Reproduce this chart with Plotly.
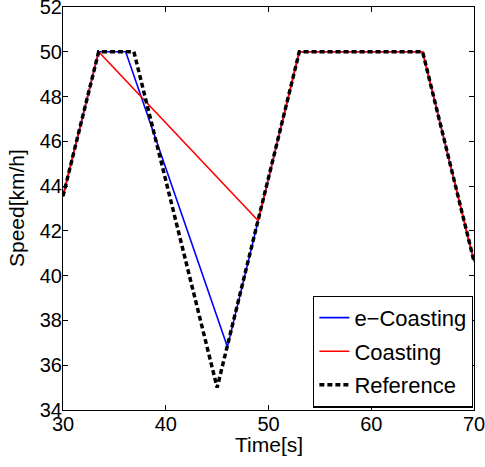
import plotly.graph_objects as go

# e-Coasting (blue)
time_e = [30, 33.47, 36.1, 46.0, 53.0, 65.0, 70]
speed_e = [43.55, 50, 50, 36.82, 50, 50, 40.64]
# Coasting (red)
time_c = [30, 33.47, 49.0, 53.0, 65.0, 70]
speed_c = [43.55, 50, 42.45, 50, 50, 40.64]
# Reference (black dashed)
time_r = [30, 33.47, 36.9, 45.0, 53.0, 65.0, 70]
speed_r = [43.55, 50, 50, 35.0, 50, 50, 40.64]

x_ticks = [30, 40, 50, 60, 70]
y_ticks = [34, 36, 38, 40, 42, 44, 46, 48, 50, 52]

FONT = "Liberation Sans, Arial, Helvetica, sans-serif"

fig = go.Figure()
fig.add_trace(go.Scatter(x=time_e, y=speed_e, mode="lines", name="e\u2212Coasting",
                         legendgroup="a", line=dict(color="#0000ff", width=1.6)))
fig.add_trace(go.Scatter(x=time_c, y=speed_c, mode="lines", name="Coasting",
                         legendgroup="b", line=dict(color="#ff0000", width=1.6)))
fig.add_trace(go.Scatter(x=time_r, y=speed_r, mode="lines", name="Reference",
                         legendgroup="c", line=dict(color="#000000", width=3.5, dash="5px,3px")))

axis_common = dict(showgrid=False, zeroline=False, showline=True, linecolor="black",
                   linewidth=1.2, mirror="ticks", ticks="inside", ticklen=5,
                   tickcolor="black", automargin=False, ticklabeloverflow="allow",
                   ticklabelstandoff=-4,
                   tickfont=dict(family=FONT, size=20, color="black"))

fig.update_xaxes(range=[30, 70], tickvals=x_ticks, ticktext=[str(v) for v in x_ticks], **axis_common)
fig.update_yaxes(range=[34, 52], tickvals=y_ticks, ticktext=[str(v) for v in y_ticks], **axis_common)

fig.add_annotation(text="Time[s]", xref="paper", yref="paper", x=0.5, y=-0.085,
                   xanchor="center", yanchor="middle", showarrow=False,
                   font=dict(family=FONT, size=21, color="black"))
fig.add_annotation(text="Speed[km/h]", xref="paper", yref="paper", x=-0.113, y=0.5,
                   xanchor="center", yanchor="middle", showarrow=False, textangle=-90,
                   font=dict(family=FONT, size=21, color="black"))

fig.update_layout(
    template="none",
    width=485, height=467,
    margin=dict(l=63, r=11, t=7, b=57),
    plot_bgcolor="white", paper_bgcolor="white",
    showlegend=True,
    legend=dict(x=0.998, y=0.006, xanchor="right", yanchor="bottom",
                bgcolor="white", bordercolor="black", borderwidth=1.2,
                font=dict(family=FONT, size=22, color="black"),
                tracegroupgap=2),
)

fig.write_html("out.html", config={"displayModeBar": False},
               post_script="document.body.style.margin='0';document.body.style.overflow='hidden';")
